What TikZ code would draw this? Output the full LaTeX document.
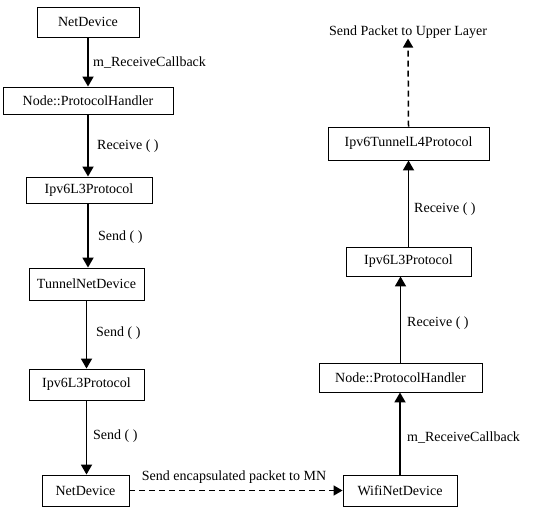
\documentclass[tikz,border=0pt]{standalone}
\usepackage{fontspec}
\setmainfont{Liberation Serif}
\usetikzlibrary{arrows.meta}
\begin{document}
\begin{tikzpicture}[x=1pt,y=-1pt,
  box/.style={draw,line width=0.9pt,inner sep=0pt,font=\fontsize{14}{16}\selectfont},
  lbl/.style={anchor=west,inner sep=0pt,font=\fontsize{14}{16}\selectfont},
  arr/.style={line width=1.8pt,-{Triangle[length=10pt,width=11pt]}},
  darr/.style={line width=1.5pt,dash pattern=on 6pt off 4pt,-{Triangle[length=9pt,width=10pt]}}]
\useasboundingbox (0,0) rectangle (534,513);
% left column
\node[box,minimum width=102,minimum height=30] (nd1) at (88,22) {NetDevice};
\node[box,minimum width=170,minimum height=27] (ph1) at (88,100.5) {Node::ProtocolHandler};
\node[box,minimum width=126,minimum height=26] (l3a) at (89,190) {Ipv6L3Protocol};
\node[box,minimum width=115,minimum height=32] (tnd) at (86.5,284) {TunnelNetDevice};
\node[box,minimum width=115,minimum height=31] (l3b) at (86.5,384.5) {Ipv6L3Protocol};
\node[box,minimum width=87,minimum height=31] (nd2) at (85.5,490.5) {NetDevice};
% right column
\node[box,minimum width=114,minimum height=31] (wifi) at (400,490.5) {WifiNetDevice};
\node[box,minimum width=163,minimum height=29] (ph2) at (400.5,377.5) {Node::ProtocolHandler};
\node[box,minimum width=125,minimum height=29] (l3c) at (408.5,261.5) {Ipv6L3Protocol};
\node[box,minimum width=161,minimum height=33] (l4) at (408.5,143.5) {Ipv6TunnelL4Protocol};
\node[lbl,anchor=center] (up) at (408,32) {Send Packet to Upper Layer};
% left arrows
\draw[arr] (nd1.south) -- (nd1.south |- ph1.north);
\draw[arr] (ph1.south) -- (ph1.south |- l3a.north);
\draw[arr] (l3a.south -| ph1.south) -- (ph1.south |- tnd.north);
\draw[arr] (tnd.south) -- (tnd.south |- l3b.north);
\draw[arr] (l3b.south) -- (l3b.south |- nd2.north);
% right arrows
\draw[arr] (wifi.north) -- (wifi.north |- ph2.south);
\draw[arr] (ph2.north) -- (ph2.north |- l3c.south);
\draw[arr] (l3c.north) -- (l3c.north |- l4.south);
\draw[darr] (l4.north) -- (up.south);
\draw[darr] (nd2.east) -- (wifi.west);
% labels
\node[lbl] at (93,63) {m\_ReceiveCallback};
\node[lbl] at (97,146) {Receive ( )};
\node[lbl] at (98,237) {Send ( )};
\node[lbl] at (96,333) {Send ( )};
\node[lbl] at (93,436) {Send ( )};
\node[lbl] at (414,209) {Receive ( )};
\node[lbl] at (407,323) {Receive ( )};
\node[lbl] at (407,438) {m\_ReceiveCallback};
\node[lbl,anchor=center] at (234,477) {Send encapsulated packet to MN};
\end{tikzpicture}
\end{document}
